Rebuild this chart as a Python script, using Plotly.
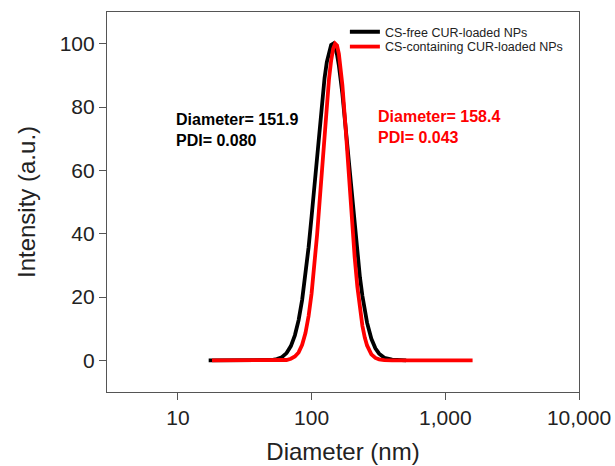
import plotly.graph_objects as go

# ---- data ----
black_name = "CS-free CUR-loaded NPs"
black_d = [17, 20, 25, 30, 40, 50, 55, 60, 65, 70, 75, 80, 85, 90, 95, 100, 105, 110, 115,
           120, 125, 130, 135, 140, 145, 150, 155, 160, 170, 180, 190, 200, 210, 220, 230,
           240, 250, 260, 280, 300, 320, 350, 400, 450, 510]
black_i = [0, 0, 0, 0, 0, 0.1, 0.4, 1.0, 2.3, 4.5, 7.9, 12.7, 19.1, 26.8, 35.7, 45.4, 55.4,
           65.2, 74.3, 82.4, 89.1, 94.2, 97.7, 99.6, 100, 98.8, 96.5, 93.1, 84.2, 73.4, 62.2,
           51.5, 41.8, 33.3, 26.2, 20.3, 15.6, 11.9, 6.8, 3.8, 2.1, 0.8, 0.2, 0.05, 0]

red_name = "CS-containing CUR-loaded NPs"
red_d = [18, 25, 35, 50, 60, 65, 70, 75, 80, 85, 90, 95, 100, 105, 110, 115, 120, 125, 130,
         135, 140, 145, 150, 155, 160, 170, 180, 190, 200, 210, 220, 230, 240, 250, 260, 280,
         300, 320, 350, 400, 500, 700, 1000, 1300, 1600]
red_i = [0, 0, 0, 0, 0, 0.1, 0.5, 1.2, 2.5, 4.9, 8.6, 14.0, 21.1, 29.8, 39.7, 50.5, 61.4,
         71.8, 81.1, 88.8, 94.6, 98.4, 100, 99.4, 96.8, 86.9, 73.0, 58.2, 44.4, 32.6, 23.2,
         16.1, 10.9, 7.2, 4.7, 1.9, 0.75, 0.3, 0.05, 0, 0, 0, 0, 0, 0]

x_tickvals = [10, 100, 1000, 10000]
x_ticktext = ["10", "100", "1,000", "10,000"]
y_tickvals = [0, 20, 40, 60, 80, 100]

black_label = ["Diameter= 151.9", "PDI= 0.080"]
red_label = ["Diameter= 158.4", "PDI= 0.043"]

FONT = "Arial, Liberation Sans, sans-serif"

fig = go.Figure()
fig.add_trace(go.Scatter(x=black_d, y=black_i, mode="lines", name=black_name,
                         line=dict(color="black", width=3.8), legend="legend"))
fig.add_trace(go.Scatter(x=red_d, y=red_i, mode="lines", name=red_name,
                         line=dict(color="#ff0000", width=3.8), legend="legend2"))

ann = []
for txt, y in zip(black_label, [0.718, 0.661]):
    ann.append(dict(text=f"<b>{txt}</b>", x=0.142, y=y, xref="paper", yref="paper",
                    xanchor="left", yanchor="middle", showarrow=False,
                    font=dict(family=FONT, size=16, color="black")))
for txt, y in zip(red_label, [0.724, 0.671]):
    ann.append(dict(text=f"<b>{txt}</b>", x=0.569, y=y, xref="paper", yref="paper",
                    xanchor="left", yanchor="middle", showarrow=False,
                    font=dict(family=FONT, size=16, color="#ff0000")))

leg_common = dict(xanchor="left", yanchor="middle", bgcolor="rgba(0,0,0,0)",
                  borderwidth=0, font=dict(family=FONT, size=12.5, color="#222"),
                  itemwidth=30, tracegroupgap=0)

fig.update_layout(
    width=615, height=466,
    margin=dict(l=107, r=36, t=12, b=74),
    paper_bgcolor="white", plot_bgcolor="white",
    font=dict(family=FONT, color="#222"),
    annotations=ann,
    legend=dict(x=0.504, y=0.947, **leg_common),
    legend2=dict(x=0.504, y=0.908, **leg_common),
    showlegend=True,
)
fig.update_xaxes(
    type="log", range=[0.47, 4.0], automargin=False,
    tickvals=x_tickvals, ticktext=x_ticktext,
    ticks="outside", ticklen=7, tickcolor="#555", tickwidth=1.2,
    showline=True, linecolor="#555", linewidth=1.2, mirror=True,
    showgrid=False, zeroline=False,
    tickfont=dict(family=FONT, size=21, color="#222"),
    title=dict(text="Diameter (nm)", font=dict(family=FONT, size=24, color="#222"), standoff=14),
)
fig.update_yaxes(
    range=[-10, 110], tickvals=y_tickvals, automargin=False,
    ticks="outside", ticklen=7, tickcolor="#555", tickwidth=1.2,
    showline=True, linecolor="#555", linewidth=1.2, mirror=True,
    showgrid=False, zeroline=False,
    tickfont=dict(family=FONT, size=21, color="#222"),
    title=dict(text="Intensity (a.u.)", font=dict(family=FONT, size=24, color="#222"), standoff=17),
)

fig.write_html("out.html")
